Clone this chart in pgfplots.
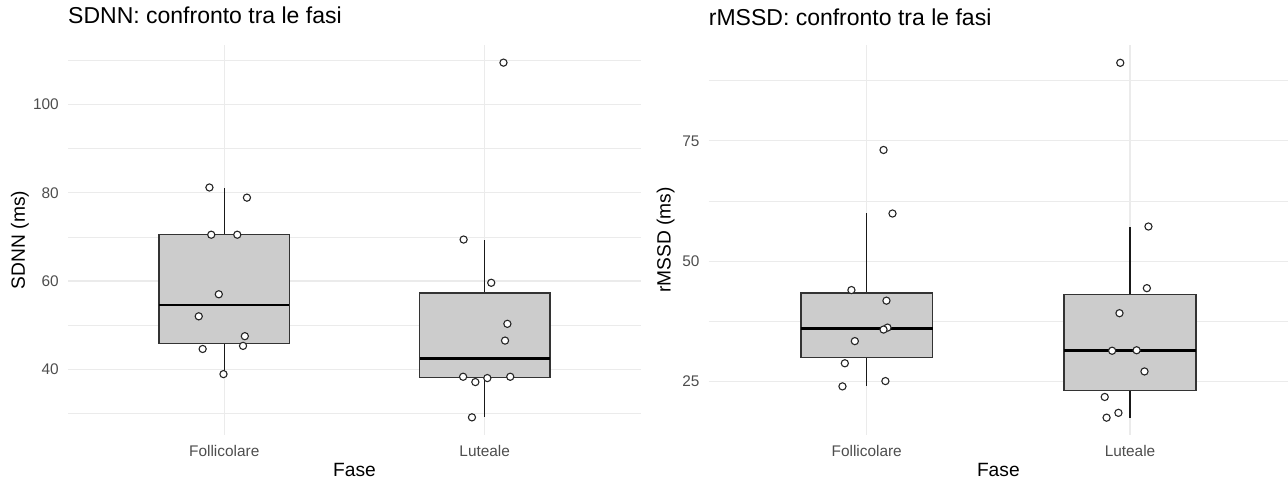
\documentclass[border=0pt]{standalone}
\usepackage{pgfplots}
\pgfplotsset{compat=1.18}
\usepackage{fontspec}
\setmainfont{Liberation Sans}
\definecolor{gridc}{HTML}{EBEBEB}
\definecolor{tickc}{HTML}{4D4D4D}
\definecolor{boxfill}{HTML}{CCCCCC}
\definecolor{boxdraw}{HTML}{333333}
\pgfplotsset{
  ggstyle/.style={
    scale only axis, height=390pt,
    axis line style={draw=none},
    major tick length=0pt, minor tick length=0pt,
    xmin=0.4, xmax=2.6,
    xtick={1,2}, xticklabels={Follicolare,Luteale},
    xmajorgrids, ymajorgrids, yminorgrids,
    major grid style={gridc, line width=1.2pt},
    minor grid style={gridc, line width=0.7pt},
    tick label style={font=\fontsize{15.4}{17}\selectfont, text=tickc},
    /pgf/number format/assume math mode=true,
    xticklabel style={inner sep=0pt, anchor=north, yshift=-10pt},
    yticklabel style={inner sep=0pt, anchor=east, xshift=-9pt},
    xlabel=Fase,
    xlabel style={at={(axis description cs:0.5,0)}, anchor=north, yshift=-28pt, inner sep=0pt, font=\fontsize{19.2}{22}\selectfont},
    title style={at={(axis description cs:0,1)}, anchor=base west, inner xsep=0pt, inner ysep=0pt, font=\fontsize{23}{26}\selectfont},
  },
  boxs/.style={draw=boxdraw, fill=boxfill, line width=1.4pt, mark=none},
  whisk/.style={draw=black!90, line width=1.4pt, mark=none},
  med/.style={draw=black, line width=2.7pt, mark=none},
  pts/.style={only marks, mark=*, mark size=3.6pt, mark options={fill=white, draw=black!85, line width=1.1pt}},
}
\begin{document}
\begin{tikzpicture}
\useasboundingbox (0,0) rectangle (1288pt,482pt);
% ---------------- SDNN ----------------
\begin{axis}[ggstyle, at={(68pt,47pt)}, anchor=south west, width=573pt,
  ymin=25.1, ymax=113.5,
  ytick={40,60,80,100}, minor ytick={30,50,70,90,110},
  ylabel={SDNN (ms)},
  ylabel style={at={(axis description cs:0,0.5)}, anchor=center, yshift=48pt, inner sep=0pt, font=\fontsize{19.2}{22}\selectfont},
  title={SDNN: confronto tra le fasi},
  title style={yshift=15pt},
]
% Follicolare box: lw 38.9, q1 45.9, med 54.6, q3 70.5, uw 81.1
\addplot[whisk] coordinates {(1,70.5) (1,81.1)};
\addplot[whisk] coordinates {(1,45.9) (1,38.9)};
\addplot[boxs] coordinates {(0.75,45.9) (1.25,45.9) (1.25,70.5) (0.75,70.5)} --cycle;
\addplot[med] coordinates {(0.75,54.6) (1.25,54.6)};
% Luteale box: lw 29.1, q1 38.1, med 42.4, q3 57.3, uw 69.4
\addplot[whisk] coordinates {(2,57.3) (2,69.4)};
\addplot[whisk] coordinates {(2,38.1) (2,29.1)};
\addplot[boxs] coordinates {(1.75,38.1) (2.25,38.1) (2.25,57.3) (1.75,57.3)} --cycle;
\addplot[med] coordinates {(1.75,42.4) (2.25,42.4)};
\addplot[pts] coordinates {
 (0.943,81.2) (1.087,78.9) (0.950,70.5) (1.050,70.5) (0.979,57.0)
 (0.902,52.0) (1.079,47.5) (0.917,44.6) (1.072,45.3) (0.997,38.9)
};
\addplot[pts] coordinates {
 (2.072,109.5) (1.919,69.4) (2.025,59.6) (2.087,50.3) (2.078,46.5)
 (1.917,38.3) (1.964,37.1) (2.010,38.0) (2.098,38.3) (1.951,29.1)
};
\end{axis}
% ---------------- rMSSD ----------------
\begin{axis}[ggstyle, at={(708.7pt,47pt)}, anchor=south west, width=579.3pt,
  ymin=13.9, ymax=94.9,
  ytick={25,50,75}, minor ytick={37.5,62.5,87.5},
  ylabel={rMSSD (ms)},
  ylabel style={at={(axis description cs:0,0.5)}, anchor=center, yshift=43pt, inner sep=0pt, font=\fontsize{19.2}{22}\selectfont},
  title={rMSSD: confronto tra le fasi},
  title style={yshift=13.5pt},
]
% Follicolare box: lw 24.0, q1 30.0, med 36.0, q3 43.4, uw 60.0
\addplot[whisk] coordinates {(1,43.4) (1,60.0)};
\addplot[whisk] coordinates {(1,30.0) (1,24.0)};
\addplot[boxs] coordinates {(0.75,30.0) (1.25,30.0) (1.25,43.4) (0.75,43.4)} --cycle;
\addplot[med] coordinates {(0.75,36.0) (1.25,36.0)};
% Luteale box: lw 17.5, q1 23.1, med 31.5, q3 43.1, uw 57.2
\addplot[whisk] coordinates {(2,43.1) (2,57.2)};
\addplot[whisk] coordinates {(2,23.1) (2,17.5)};
\addplot[boxs] coordinates {(1.75,23.1) (2.25,23.1) (2.25,43.1) (1.75,43.1)} --cycle;
\addplot[med] coordinates {(1.75,31.5) (2.25,31.5)};
\addplot[pts] coordinates {
 (1.064,73.1) (1.098,59.9) (0.942,44.0) (1.075,41.8) (1.079,36.2)
 (1.064,35.8) (0.955,33.4) (0.917,28.8) (1.071,25.1) (0.908,24.0)
};
\addplot[pts] coordinates {
 (1.963,91.2) (2.070,57.2) (2.064,44.4) (1.960,39.2) (1.932,31.4)
 (2.025,31.5) (2.055,27.1) (1.904,21.8) (1.956,18.5) (1.911,17.5)
};
\end{axis}
\end{tikzpicture}
\end{document}
